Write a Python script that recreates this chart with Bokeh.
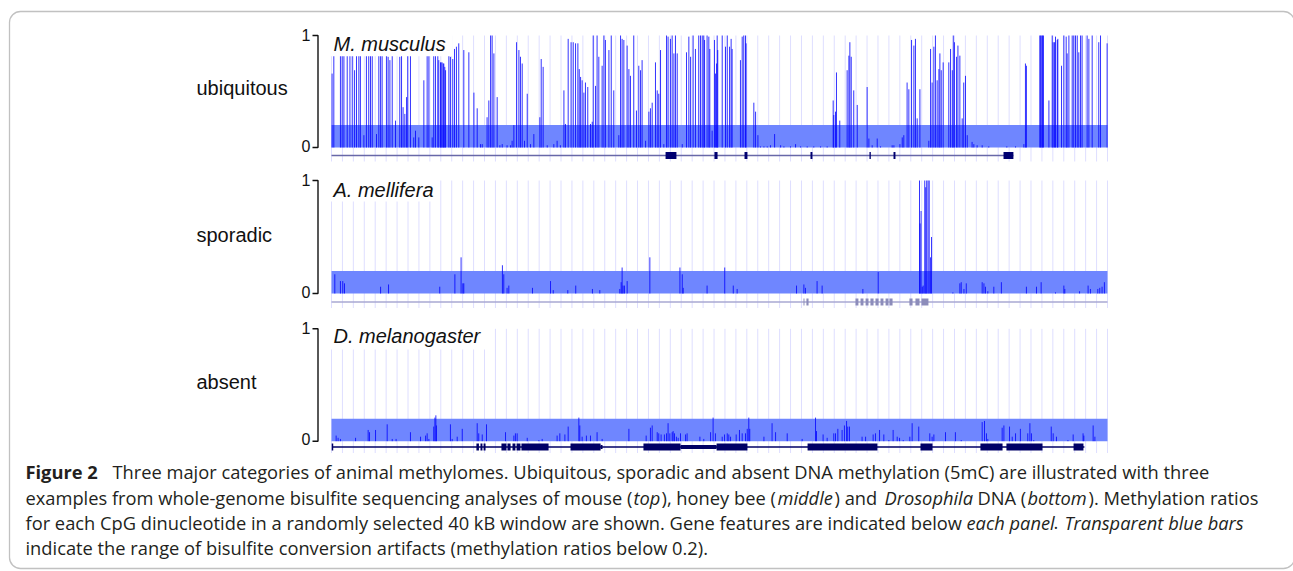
import numpy as np
from bokeh.plotting import figure
from bokeh.models import Range1d, BoxAnnotation
from bokeh.core.properties import value
from bokeh.embed import file_html
from bokeh.resources import INLINE

# ---------------- data ----------------
WINDOW_KB = 40.0
ARTIFACT_MAX = 0.2
panel_names = ["ubiquitous", "sporadic", "absent"]
species_names = ["M. musculus", "A. mellifera", "D. melanogaster"]
tick_values = [0, 1]
tick_labels = ["0", "1"]

# (position in kb, methylation ratio)
mouse_cpg = [
    (0.03, 0.66), (0.12, 1.0), (0.46, 1.0), (0.55, 1.0), (0.64, 0.95), (0.81, 1.0), (0.95, 1.0),
    (1.07, 0.9), (1.19, 0.69), (1.29, 1.0), (1.41, 1.0), (1.49, 1.0), (1.67, 0.11), (1.80, 1.0),
    (1.92, 1.0), (2.01, 0.95), (2.10, 1.0), (2.32, 0.12), (2.44, 1.0), (2.53, 1.0), (2.61, 1.0),
    (2.84, 1.0), (2.92, 0.81), (3.01, 0.78), (3.13, 1.0), (3.30, 0.24), (3.52, 0.81), (3.61, 1.0),
    (3.69, 0.36), (3.78, 0.30), (3.87, 0.45), (3.93, 1.0), (4.07, 1.0), (4.24, 0.09), (4.33, 0.15),
    (4.50, 0.09), (4.76, 0.60), (4.93, 1.0), (5.02, 1.0), (5.19, 0.09), (5.27, 1.0), (5.36, 1.0),
    (5.48, 1.0), (5.53, 0.78), (5.62, 0.76), (5.65, 0.76), (5.70, 0.76), (5.76, 0.75), (5.79, 0.75),
    (5.84, 0.72), (5.88, 0.69), (6.05, 1.0), (6.13, 0.81), (6.25, 0.79), (6.34, 0.88), (6.44, 0.90),
    (6.56, 0.93), (6.82, 0.87), (7.08, 0.85), (7.34, 0.49), (7.51, 0.35), (7.68, 0.03), (7.77, 0.03),
    (8.02, 0.27), (8.11, 0.42), (8.20, 1.0), (8.28, 1.0), (8.37, 0.84), (8.54, 0.45), (8.68, 0.02),
    (8.80, 0.03), (9.05, 0.02), (9.23, 0.02), (9.31, 0.06), (9.40, 0.20), (9.54, 0.94), (9.66, 0.87),
    (9.74, 0.81), (9.83, 0.75), (9.95, 0.06), (10.09, 0.48), (10.26, 0.03), (10.43, 0.12), (10.74, 0.27),
    (10.81, 0.79), (10.91, 0.72), (11.12, 0.02), (11.46, 0.03), (11.63, 0.06), (11.80, 0.02), (11.98, 0.51),
    (12.06, 0.21), (12.20, 0.97), (12.35, 0.94), (12.46, 0.94), (12.58, 0.93), (12.70, 0.93), (12.77, 0.70),
    (12.84, 0.63), (12.92, 0.60), (13.01, 0.49), (13.09, 0.58), (13.21, 0.54), (13.35, 0.21), (13.44, 0.23),
    (13.49, 1.0), (13.61, 0.55), (13.69, 1.0), (13.78, 0.81), (13.95, 0.73), (14.04, 1.0), (14.12, 0.96),
    (14.30, 0.87), (14.42, 1.0), (14.55, 0.51), (14.81, 0.11), (14.90, 1.0), (14.98, 0.97), (15.07, 0.96),
    (15.24, 0.91), (15.33, 0.70), (15.41, 0.64), (15.58, 1.0), (15.72, 0.33), (15.84, 0.73), (15.93, 0.69),
    (16.01, 0.78), (16.19, 0.06), (16.36, 0.32), (16.44, 0.35), (16.53, 0.40), (16.70, 0.76), (16.79, 0.51),
    (16.87, 0.48), (16.96, 0.87), (17.13, 0.03), (17.27, 1.0), (17.35, 0.99), (17.47, 0.97), (17.56, 1.0),
    (17.65, 0.84), (17.73, 1.0), (17.82, 0.84), (18.08, 0.03), (18.30, 0.85), (18.42, 0.99), (18.51, 0.81),
    (18.64, 1.0), (18.76, 0.88), (18.93, 1.0), (19.02, 1.0), (19.11, 1.0), (19.19, 1.0), (19.23, 0.96),
    (19.36, 1.0), (19.45, 0.99), (19.50, 0.88), (19.62, 0.15), (19.74, 0.96), (19.79, 0.66), (19.85, 0.75),
    (19.88, 1.0), (19.91, 0.87), (20.14, 1.0), (20.31, 0.90), (20.40, 1.0), (20.52, 0.90), (20.60, 0.97),
    (20.65, 0.88), (21.08, 0.78), (21.17, 0.99), (21.25, 1.0), (21.34, 1.0), (21.37, 0.93), (21.77, 0.40),
    (21.86, 0.32), (21.98, 0.11), (22.11, 0.01), (22.29, 0.01), (22.46, 0.01), (22.63, 0.02), (22.84, 0.12),
    (23.15, 0.02), (23.32, 0.01), (23.66, 0.01), (23.92, 0.03), (24.18, 0.01), (24.52, 0.01), (24.86, 0.01),
    (25.21, 0.01), (25.55, 0.01), (25.86, 0.42), (25.89, 0.29), (25.98, 0.32), (26.03, 0.67), (26.20, 0.24),
    (26.58, 0.69), (26.67, 0.82), (26.72, 0.94), (26.79, 0.81), (26.92, 0.51), (27.10, 0.38), (27.61, 0.54),
    (27.70, 0.08), (27.87, 0.02), (28.13, 0.08), (28.30, 0.01), (28.90, 0.02), (28.99, 0.02), (29.30, 0.03),
    (29.42, 0.09), (29.50, 0.11), (29.67, 0.58), (29.76, 0.52), (29.90, 0.96), (30.02, 0.91), (30.10, 0.97),
    (30.19, 0.26), (30.33, 0.52), (30.79, 0.06), (30.88, 0.88), (30.96, 0.58), (31.05, 0.90), (31.13, 1.0),
    (31.22, 0.60), (31.31, 0.70), (31.36, 0.84), (31.43, 0.69), (31.53, 0.76), (31.82, 0.76), (31.91, 0.88),
    (32.00, 0.69), (32.05, 1.0), (32.11, 0.94), (32.22, 0.81), (32.29, 0.91), (32.39, 0.82), (32.51, 0.26),
    (32.59, 0.58), (32.68, 0.64), (32.77, 0.11), (33.02, 0.05), (33.11, 0.03), (33.28, 0.02), (33.54, 0.02),
    (33.88, 0.01), (34.81, 0.01), (35.26, 0.01), (35.69, 0.03), (35.77, 0.75), (35.82, 0.73), (36.51, 1.0),
    (36.55, 1.0), (36.61, 1.0), (36.65, 1.0), (36.70, 1.0), (36.98, 0.42), (37.15, 1.0), (37.20, 0.94),
    (37.27, 0.94), (37.32, 0.99), (37.41, 0.96), (37.44, 0.97), (37.63, 0.73), (37.75, 1.0), (37.87, 0.99),
    (37.92, 0.84), (38.01, 1.0), (38.18, 1.0), (38.26, 1.0), (38.35, 1.0), (38.44, 1.0), (38.52, 0.85),
    (38.61, 1.0), (38.69, 1.0), (38.95, 1.0), (39.04, 0.97), (39.21, 1.0), (39.55, 0.94), (39.64, 1.0),
    (39.98, 0.93),
]

bee_cpg = [
    (0.17, 0.17), (0.46, 0.11), (0.58, 0.11), (0.67, 0.09), (2.53, 0.06), (2.94, 0.08), (5.58, 0.06),
    (6.36, 0.17), (6.68, 0.32), (6.77, 0.09), (6.82, 0.09), (8.81, 0.25), (8.88, 0.17), (9.05, 0.05),
    (9.14, 0.07), (10.36, 0.05), (11.29, 0.11), (11.43, 0.03), (12.18, 0.03), (12.59, 0.07), (13.45, 0.04),
    (13.83, 0.03), (14.86, 0.04), (14.93, 0.10), (14.98, 0.23), (15.03, 0.07), (15.10, 0.07), (15.24, 0.11),
    (16.41, 0.32), (17.96, 0.23), (18.08, 0.17), (18.13, 0.05), (19.36, 0.07), (20.27, 0.23), (20.71, 0.07),
    (20.91, 0.04), (23.97, 0.07), (24.35, 0.08), (24.43, 0.05), (25.03, 0.11), (25.29, 0.07), (27.39, 0.04),
    (28.18, 0.19), (30.31, 1.0), (30.34, 0.62), (30.39, 0.73), (30.45, 0.06), (30.50, 0.07), (30.58, 1.0),
    (30.63, 0.94), (30.68, 1.0), (30.75, 1.0), (30.81, 1.0), (30.88, 0.32), (30.93, 0.50), (32.03, 0.01),
    (32.39, 0.09), (32.46, 0.10), (32.60, 0.04), (32.72, 0.09), (33.54, 0.10), (33.63, 0.09), (33.71, 0.06),
    (33.83, 0.02), (34.14, 0.06), (34.53, 0.10), (35.82, 0.06), (36.34, 0.06), (36.58, 0.10), (37.32, 0.01),
    (37.75, 0.07), (37.80, 0.04), (38.56, 0.02), (39.00, 0.07), (39.12, 0.04), (39.50, 0.04), (39.60, 0.05),
    (39.72, 0.06), (39.84, 0.10),
]

fly_cpg = [
    (0.24, 0.05), (0.34, 0.03), (0.46, 0.02), (1.24, 0.03), (1.89, 0.10), (1.96, 0.08), (2.27, 0.10),
    (2.87, 0.15), (3.13, 0.02), (3.33, 0.02), (4.07, 0.08), (4.59, 0.04), (4.85, 0.05), (4.93, 0.07),
    (5.02, 0.02), (5.27, 0.13), (5.33, 0.21), (5.38, 0.23), (5.41, 0.14), (6.13, 0.15), (6.22, 0.02),
    (6.48, 0.04), (6.74, 0.11), (7.51, 0.16), (7.59, 0.07), (7.77, 0.06), (7.99, 0.15), (8.97, 0.08),
    (9.40, 0.05), (9.48, 0.07), (9.57, 0.07), (10.09, 0.03), (10.69, 0.01), (10.86, 0.02), (11.63, 0.05),
    (11.77, 0.07), (12.03, 0.06), (12.20, 0.13), (12.75, 0.21), (12.80, 0.14), (12.92, 0.04), (13.14, 0.05),
    (13.35, 0.05), (13.69, 0.08), (13.95, 0.02), (15.33, 0.11), (16.22, 0.05), (16.44, 0.12), (16.53, 0.14),
    (16.79, 0.08), (16.87, 0.07), (16.99, 0.06), (17.16, 0.06), (17.27, 0.07), (17.35, 0.16), (17.44, 0.07),
    (17.56, 0.08), (17.61, 0.09), (17.68, 0.07), (17.78, 0.04), (17.87, 0.03), (17.99, 0.07), (18.25, 0.06),
    (18.33, 0.07), (18.99, 0.04), (19.19, 0.02), (19.54, 0.08), (19.67, 0.21), (19.79, 0.07), (20.14, 0.04),
    (20.26, 0.06), (20.40, 0.07), (20.48, 0.06), (20.57, 0.04), (20.86, 0.06), (21.03, 0.10), (21.17, 0.07),
    (21.34, 0.07), (21.43, 0.11), (21.51, 0.21), (21.56, 0.11), (22.29, 0.04), (22.71, 0.16), (22.89, 0.08),
    (23.49, 0.07), (24.26, 0.02), (24.95, 0.21), (25.00, 0.09), (25.34, 0.06), (25.55, 0.03), (25.89, 0.07),
    (25.98, 0.07), (26.10, 0.11), (26.32, 0.10), (26.44, 0.14), (26.55, 0.18), (26.61, 0.13), (26.70, 0.13),
    (27.35, 0.04), (27.53, 0.04), (27.92, 0.06), (28.04, 0.07), (28.25, 0.10), (28.47, 0.06), (28.73, 0.01),
    (28.95, 0.10), (29.16, 0.04), (29.28, 0.03), (29.47, 0.01), (29.81, 0.04), (29.93, 0.16), (30.27, 0.13),
    (30.84, 0.07), (30.96, 0.04), (31.05, 0.06), (31.65, 0.08), (32.16, 0.08), (32.46, 0.01), (33.54, 0.17),
    (33.66, 0.18), (33.76, 0.07), (33.83, 0.02), (34.57, 0.12), (34.66, 0.14), (34.95, 0.13), (35.09, 0.04),
    (35.26, 0.07), (35.51, 0.11), (35.89, 0.07), (36.00, 0.16), (36.08, 0.07), (36.20, 0.01), (37.10, 0.13),
    (37.20, 0.07), (37.37, 0.04), (37.96, 0.01), (38.23, 0.06), (38.74, 0.07), (38.78, 0.05), (39.26, 0.14),
    (39.35, 0.04),
]

# gene features (kb): transcript span and exons
mouse_transcript = (0.0, 35.15)
mouse_exons = [(17.22, 17.78), (19.74, 19.90), (21.29, 21.44), (24.69, 24.79), (27.73, 27.80),
               (28.97, 29.07), (34.64, 35.15)]
bee_transcript = (0.0, 40.0)
bee_exons = [(24.33, 24.38), (24.48, 24.59), (27.01, 27.16), (27.27, 27.42), (27.53, 27.68),
             (27.78, 27.94), (28.04, 28.20), (28.30, 28.45), (28.56, 28.71), (28.76, 28.92),
             (29.79, 29.95), (30.10, 30.31), (30.41, 30.77)]
fly_transcript = (0.05, 38.81)
fly_exons = [(7.47, 7.60), (7.68, 7.78), (7.84, 7.94), (8.76, 9.02), (9.07, 9.23), (9.33, 9.48),
             (9.54, 9.74), (9.79, 11.19), (12.32, 13.87), (16.08, 17.99), (19.85, 21.44),
             (24.54, 28.14), (30.36, 30.98), (33.45, 34.59), (34.79, 36.65), (38.25, 38.76)]
fly_utrs = [(17.99, 19.85), (13.87, 13.97)]

caption_lines = [
    [("Figure 2", 25, "bold"),
     ("Three major categories of animal methylomes. Ubiquitous, sporadic and absent DNA methylation (5mC) are illustrated with three", 112, "normal")],
    [("examples from whole-genome bisulfite sequencing analyses of mouse (", 25, "normal"),
     ("top", 633, "italic"), ("), honey bee (", 661, "normal"), ("middle", 777, "italic"),
     (") and", 834, "normal"), ("Drosophila", 884, "italic"), ("DNA (", 977, "normal"),
     ("bottom", 1027, "italic"), ("). Methylation ratios", 1088, "normal")],
    [("for each CpG dinucleotide in a randomly selected 40 kB window are shown. Gene features are indicated below", 25, "normal"),
     ("each panel", 966, "italic"), (".", 1053, "normal"), ("Transparent blue bars", 1064, "italic")],
    [("indicate the range of bisulfite conversion artifacts (methylation ratios below 0.2).", 25, "normal")],
]

# ---------------- layout (page pixels) ----------------
W, H = 1293, 571
X0, X1 = 331, 1107
panels = [
    dict(top=35.0, zero=147.0, gene=155.0, box_right=452, label_base=87.5, sp_base=43.0,
         line_col="#6868a8", exon_col="#000070", data=mouse_cpg, tr=mouse_transcript, ex=mouse_exons),
    dict(top=180.0, zero=293.0, gene=301.5, box_right=435, label_base=234.5, sp_base=189.0,
         line_col="#a8a8d2", exon_col="#8c8cba", data=bee_cpg, tr=bee_transcript, ex=bee_exons),
    dict(top=328.3, zero=440.7, gene=446.5, box_right=490, label_base=381.5, sp_base=335.0,
         line_col="#000066", exon_col="#000066", data=fly_cpg, tr=fly_transcript, ex=fly_exons),
]
CAPTION_BASES = [471.0, 496.5, 522.0, 547.0]

kpx = (X1 - X0) / WINDOW_KB

p = figure(width=W, height=H, x_range=Range1d(0, W), y_range=Range1d(H, 0),
           output_backend="svg", toolbar_location=None, min_border=0,
           x_axis_location=None, y_axis_location=None, outline_line_color=None)
p.grid.visible = False
p.background_fill_color = "white"
p.border_fill_color = "white"

kb_start = -X0 / kpx
p.extra_x_ranges = {"kb": Range1d(kb_start, kb_start + W / kpx)}
yr = {}
for i, pn in enumerate(panels):
    c0, c1 = pn["zero"], pn["top"]
    span = H / (c0 - c1)
    end = c0 / (c0 - c1)
    yr[f"p{i}"] = Range1d(end - span, end)
p.extra_y_ranges = yr

grid_kb = np.linspace(0, WINDOW_KB, 72)
LABEL_FONT = value("Liberation Sans")

for i, pn in enumerate(panels):
    rn = f"p{i}"
    pos = [d[0] for d in pn["data"]]
    rat = [d[1] for d in pn["data"]]
    # guide lines
    p.segment(x0=grid_kb, x1=grid_kb, y0=pn["top"], y1=pn["gene"] + 6,
              x_range_name="kb", line_color="#dedeff", line_width=1)
    # artifact band
    p.quad(left=[0], right=[WINDOW_KB], bottom=[0], top=[ARTIFACT_MAX],
           x_range_name="kb", y_range_name=rn, fill_color="#6f86ff", line_color=None)
    # CpG bars
    p.segment(x0=pos, x1=pos, y0=0, y1=rat, x_range_name="kb", y_range_name=rn,
              line_color="#0000ff", line_width=1, line_alpha=0.8)
    # white label background
    p.quad(left=[-0.5], right=[(pn["box_right"] - X0) / kpx], bottom=[0.815], top=[1.1],
           x_range_name="kb", y_range_name=rn, fill_color="white", line_color=None)
    # species label
    p.text(x=[X0 + 2], y=[pn["sp_base"]], text=[species_names[i]],
           text_font=LABEL_FONT, text_font_size="20px", text_font_style="italic",
           text_color="#111111", text_baseline="alphabetic")
    # category label
    p.text(x=[196], y=[pn["label_base"]], text=[panel_names[i]],
           text_font=LABEL_FONT, text_font_size="20px", text_color="#111111",
           text_baseline="alphabetic")
    # bracket axis
    xa = 317.5
    p.line(x=[xa - 5.5, xa, xa, xa - 5.5],
           y=[pn["top"], pn["top"], pn["zero"], pn["zero"]],
           line_color="#111111", line_width=1.4)
    ty = [pn["zero"] - 2, pn["top"] - 1]
    p.text(x=[310] * 2, y=ty, text=tick_labels, text_font=LABEL_FONT,
           text_font_size="16px", text_color="#111111", text_align="right",
           text_baseline="alphabetic")
    # gene track
    gy = pn["gene"]
    p.segment(x0=[pn["tr"][0]], x1=[pn["tr"][1]], y0=[gy], y1=[gy], x_range_name="kb",
              line_color=pn["line_col"], line_width=1.5)
    ex = pn["ex"]
    p.quad(left=[e[0] for e in ex], right=[e[1] for e in ex], top=gy - 3.5, bottom=gy + 3.5,
           x_range_name="kb", fill_color=pn["exon_col"], line_color=None)
    if i == 2:
        p.quad(left=[u[0] for u in fly_utrs], right=[u[1] for u in fly_utrs], top=gy - 2,
               bottom=gy + 2, x_range_name="kb", fill_color=pn["exon_col"], line_color=None)
        p.segment(x0=[fly_transcript[0]], x1=[fly_transcript[0]], y0=[gy - 3.5], y1=[gy + 3.5],
                  x_range_name="kb", line_color=pn["exon_col"], line_width=1.5)

# caption
CAP_FONT = value("Open Sans")
for li, runs in enumerate(caption_lines):
    base = CAPTION_BASES[li]
    for txt, x, style in runs:
        p.text(x=[x], y=[base], text=[txt], text_font=CAP_FONT, text_font_size="18.3px",
               text_font_style=style, text_color="#231f20", text_baseline="alphabetic")

# rounded frame
p.add_layout(BoxAnnotation(left=9, right=1294, top=11, bottom=568, fill_alpha=0,
                           line_color="#333333", line_width=1.3, border_radius=11))

open("out.html", "w").write(file_html(p, INLINE))
